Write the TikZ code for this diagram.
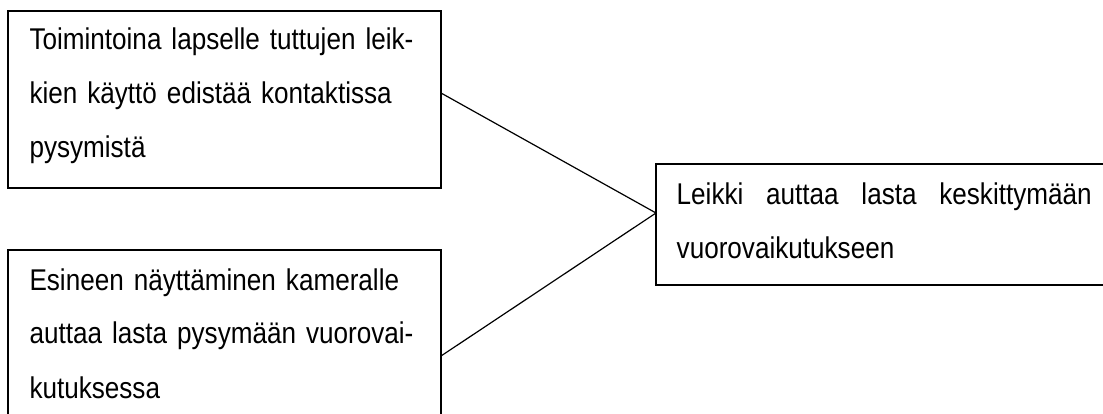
\documentclass[tikz,border=0pt]{standalone}
\usepackage{fontspec}
\setmainfont{Liberation Sans}
\newfontfamily\diagfont[FakeStretch=0.87]{Liberation Sans}
\begin{document}
\begin{tikzpicture}[x=1pt,y=-1pt,
  box/.style={draw, line width=1.3pt, inner ysep=0pt, outer sep=0pt, align=left,
    font=\diagfont\fontsize{30}{54}\selectfont},
  link/.style={line width=1.2pt}]
\clip (0,0) rectangle (1103,414);
\node[box, anchor=north west, inner xsep=21.5pt, text width=390pt] (a) at (8,11)
  {\rule{0pt}{39pt}Toimintoina lapselle tuttujen leik-\\kien käyttö edistää kontaktissa\\pysymistä\rule[-30pt]{0pt}{0pt}};
\node[box, anchor=north west, inner xsep=21.5pt, text width=390pt] (b) at (8,250)
  {\rule{0pt}{40pt}Esineen näyttäminen kameralle\\auttaa lasta pysymään vuorovai-\\kutuksessa\rule[-30pt]{0pt}{0pt}};
\node[box, anchor=north west, inner xsep=20.7pt, text width=415pt] (c) at (656,164)
  {\rule{0pt}{41pt}\hbox to 415pt{Leikki\hfill auttaa\hfill lasta\hfill keskittymään}\\vuorovaikutukseen\rule[-26pt]{0pt}{0pt}};
\draw[link] ([yshift=6.5pt]a.east) -- ([yshift=11.5pt]c.west);
\draw[link] ([yshift=-17pt]b.east) -- ([yshift=11.5pt]c.west);
\end{tikzpicture}
\end{document}
